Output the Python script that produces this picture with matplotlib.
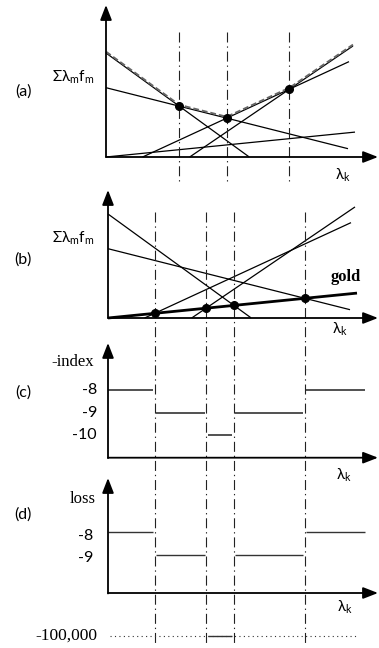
import numpy as np
import matplotlib.pyplot as plt

plt.rcParams['font.family'] = ['Lato', 'Open Sans', 'DejaVu Sans']
plt.rcParams['mathtext.fontset'] = 'custom'

# candidate score lines: sum(lambda_m f_m) = slope * lambda_k + icpt
line_slope = [-0.726, -0.252, 0.462, 0.680, 0.100]
line_icpt = [104.0, 69.3, -16.9, -56.9, 0.0]
line_end = [143, 242, 243, 247, 249]
gold = 4
envelope_lines = [0, 1, 2, 3]

# panel (c) and (d) step values between the gold crossings
index_vals = [-8, -9, -10, -9, -8]
loss_vals = [-8, -9, -100000, -9, -8]
index_ticks = [-8, -9, -10]
loss_ticks = [-8, -9]

W, H = 379, 648
SERIF = ['Liberation Serif', 'DejaVu Serif']
fig = plt.figure(figsize=(W / 100, H / 100), dpi=100)


def make_panel(ox, oy, sy=1.0, base=0.0):
    # full-figure transparent axes; origin of the panel sits at pixel (ox, oy)
    ax = fig.add_axes([0, 0, 1, 1])
    ax.set_xlim(-ox, W - ox)
    ax.set_ylim(base - (H - oy) / sy, base + oy / sy)
    ax.axis('off')
    ax.patch.set_alpha(0)
    return ax


def draw_axes(ax, xtip, ytip, x0=0.0, y0=0.0):
    kw = dict(arrowstyle='-|>,head_length=0.9,head_width=0.35', color='black',
              lw=1.3, shrinkA=0, shrinkB=0, mutation_scale=10)
    ax.annotate('', xy=(xtip, y0), xytext=(x0, y0), arrowprops=kw)
    ax.annotate('', xy=(x0, ytip), xytext=(x0, y0 - 0.02), arrowprops=kw)


def line_y(i, x):
    return line_slope[i] * np.asarray(x) + line_icpt[i]


def line_start(i):
    if line_slope[i] > 0 and line_icpt[i] < 0:
        return -line_icpt[i] / line_slope[i]
    return 0.0


def cross(i, j):
    return (line_icpt[j] - line_icpt[i]) / (line_slope[i] - line_slope[j])


def draw_score_lines(ax, bold=None):
    for i in range(len(line_slope)):
        xs = np.array([line_start(i), line_end[i]])
        lw = 2.0 if i == bold else 0.9
        ax.plot(xs, line_y(i, xs), color='black', lw=lw, solid_capstyle='butt')


vstyle = dict(color='#222222', lw=0.8, linestyle=(0, (9, 3.5, 1.2, 3.5)))

# ---------------- (a) ----------------
ax_a = make_panel(106, 157)
draw_score_lines(ax_a)
xs = np.linspace(0, 247, 400)
env = np.max([line_y(i, xs) for i in envelope_lines], axis=0)
ax_a.plot(xs, env + 1.3, color='#666666', lw=1.4, linestyle=(0, (3, 1.5)))
breaks_a = [cross(envelope_lines[k], envelope_lines[k + 1]) for k in range(len(envelope_lines) - 1)]
for k, bx in enumerate(breaks_a):
    ax_a.plot([bx, bx], [125, -25], **vstyle)
    ax_a.plot(bx, line_y(envelope_lines[k], bx), 'o', color='black', ms=5.5)
draw_axes(ax_a, 272, 152)

# ---------------- (b) ----------------
ax_b = make_panel(108, 318)
draw_score_lines(ax_b, bold=gold)
breaks_b = sorted(cross(i, gold) for i in range(len(line_slope)) if i != gold)
for bx in breaks_b:
    ax_b.plot([bx, bx], [106, -327], **vstyle)
    ax_b.plot(bx, line_y(gold, bx), 'o', color='black', ms=5.5)
draw_axes(ax_b, 270, 128)

bounds = [0.0] + breaks_b + [257.0]


def draw_steps(ax, vals, lw, level_of=lambda v: v, gap=1.5):
    for k, v in enumerate(vals):
        x0 = bounds[k] + (0 if k == 0 else gap)
        x1 = bounds[k + 1] - (0 if k == len(vals) - 1 else gap)
        ax.plot([x0, x1], [level_of(v)] * 2, color='#333333', lw=lw, solid_capstyle='butt')


# ---------------- (c) ----------------
ax_c = make_panel(108, 457.7, sy=22.5, base=-11)
draw_steps(ax_c, index_vals, 1.2)
for t in index_ticks:
    ax_c.text(-11, t, str(t), ha='right', va='center', fontsize=11.5)
draw_axes(ax_c, 270, -5.9, y0=-11)

# ---------------- (d) ----------------
break_level = -12.5
ax_d = make_panel(108, 593, sy=23, base=-10.65)
draw_steps(ax_d, loss_vals, 1.0, level_of=lambda v: v if v > -50 else break_level)
ax_d.plot([2, 249], [break_level] * 2, color='#333333', lw=0.8, linestyle=(0, (1, 3)))
for t in loss_ticks:
    ax_d.text(-15, t - 0.15, str(t), ha='right', va='center', fontsize=11.5)
ax_d.text(-11, break_level, f'{min(loss_vals):,}', ha='right', va='center',
          fontsize=12.5, family=SERIF)
draw_axes(ax_d, 270, -5.65, y0=-10.65)


# ---------------- text ----------------
def ftext(px, py, s, **kw):
    fig.text(px / W, 1 - py / H, s, ha='center', va='center', **kw)


for lab, py in zip(['(a)', '(b)', '(c)', '(d)'], [92, 260, 393, 515]):
    ftext(23, py, lab, fontsize=11.5)
sig = r'Σλ$_\mathregular{m}$f$_\mathregular{m}$'
ftext(73, 77, sig, fontsize=11)
ftext(73, 238, sig, fontsize=11)
lam = r'λ$_\mathregular{k}$'
for px, py in [(343, 175), (340, 329), (344, 475), (345, 607)]:
    ftext(px, py, lam, fontsize=11)
ftext(73, 362, '-index', fontsize=12, family=SERIF)
ftext(83, 499, 'loss', fontsize=12, family=SERIF)
ftext(346, 277, 'gold', fontsize=12, family=SERIF, fontweight='bold')

fig.savefig('out.png', dpi=100)
